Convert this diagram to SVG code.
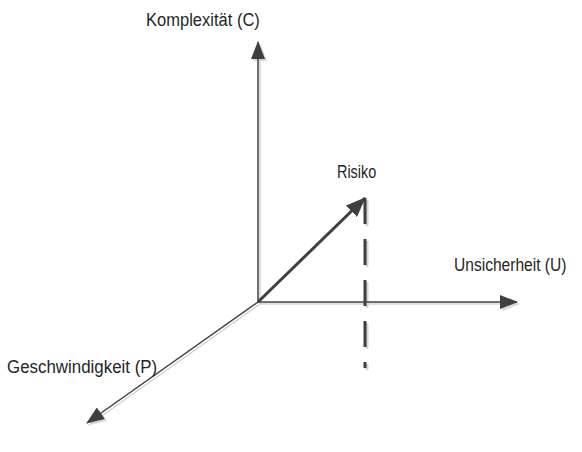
<svg xmlns="http://www.w3.org/2000/svg" width="582" height="452" viewBox="0 0 582 452">
<style>
.axis{stroke:#3f3f3f;stroke-width:1.5;fill:none}
.shadow{stroke:#d4d4d4;fill:none}
.lbl{font-family:"Liberation Sans",Arial,sans-serif;font-size:19px;fill:#262626}
</style>
<defs>
<marker id="ah" markerUnits="userSpaceOnUse" markerWidth="18" markerHeight="14" viewBox="0 0 18 14" refX="17" refY="7" orient="auto">
<path d="M0,0 L18,7 L0,14 Z" fill="#3f3f3f"/>
</marker>
<marker id="ahs" markerUnits="userSpaceOnUse" markerWidth="18" markerHeight="14" viewBox="0 0 18 14" refX="17" refY="7" orient="auto">
<path d="M0,0 L18,7 L0,14 Z" fill="#d8d8d8"/>
</marker>
<marker id="ahr" markerUnits="userSpaceOnUse" markerWidth="20" markerHeight="16" viewBox="0 0 20 16" refX="19" refY="8" orient="auto">
<path d="M0,0 L20,8 L0,16 Z" fill="#3f3f3f"/>
</marker>
</defs>
<g id="connectors">
<line class="shadow" stroke-width="1.5" x1="260" y1="304" x2="260" y2="44" marker-end="url(#ahs)"/>
<line class="shadow" stroke-width="1.5" x1="260" y1="304" x2="519" y2="304" marker-end="url(#ahs)"/>
<line class="shadow" stroke-width="1.5" x1="260" y1="304" x2="89" y2="425" marker-end="url(#ahs)"/>
<line class="shadow" stroke-width="3" x1="367" y1="200" x2="367" y2="370" stroke-dasharray="26 15"/>
<line id="axis-c" class="axis" x1="258" y1="302" x2="258" y2="42" marker-end="url(#ah)"/>
<line id="axis-u" class="axis" x1="258" y1="302" x2="517" y2="302" marker-end="url(#ah)"/>
<line id="axis-p" class="axis" x1="258" y1="302" x2="87" y2="423" marker-end="url(#ah)"/>
<line id="risk-drop" x1="365" y1="198" x2="365" y2="368" stroke="#3f3f3f" stroke-width="3" stroke-dasharray="26 15"/>
<line id="risk-vector" x1="258" y1="302" x2="365" y2="198" stroke="#3f3f3f" stroke-width="3" marker-end="url(#ahr)"/>
</g>
<g id="label-c"><text class="lbl" transform="translate(146,26) scale(0.87,1)">Komplexität (C)</text></g>
<g id="label-risk"><text class="lbl" transform="translate(337,178) scale(0.76,1)">Risiko</text></g>
<g id="label-u"><text class="lbl" transform="translate(454,271) scale(0.82,1)">Unsicherheit (U)</text></g>
<g id="label-p"><text class="lbl" transform="translate(7,373) scale(0.89,1)">Geschwindigkeit (P)</text></g>
</svg>
